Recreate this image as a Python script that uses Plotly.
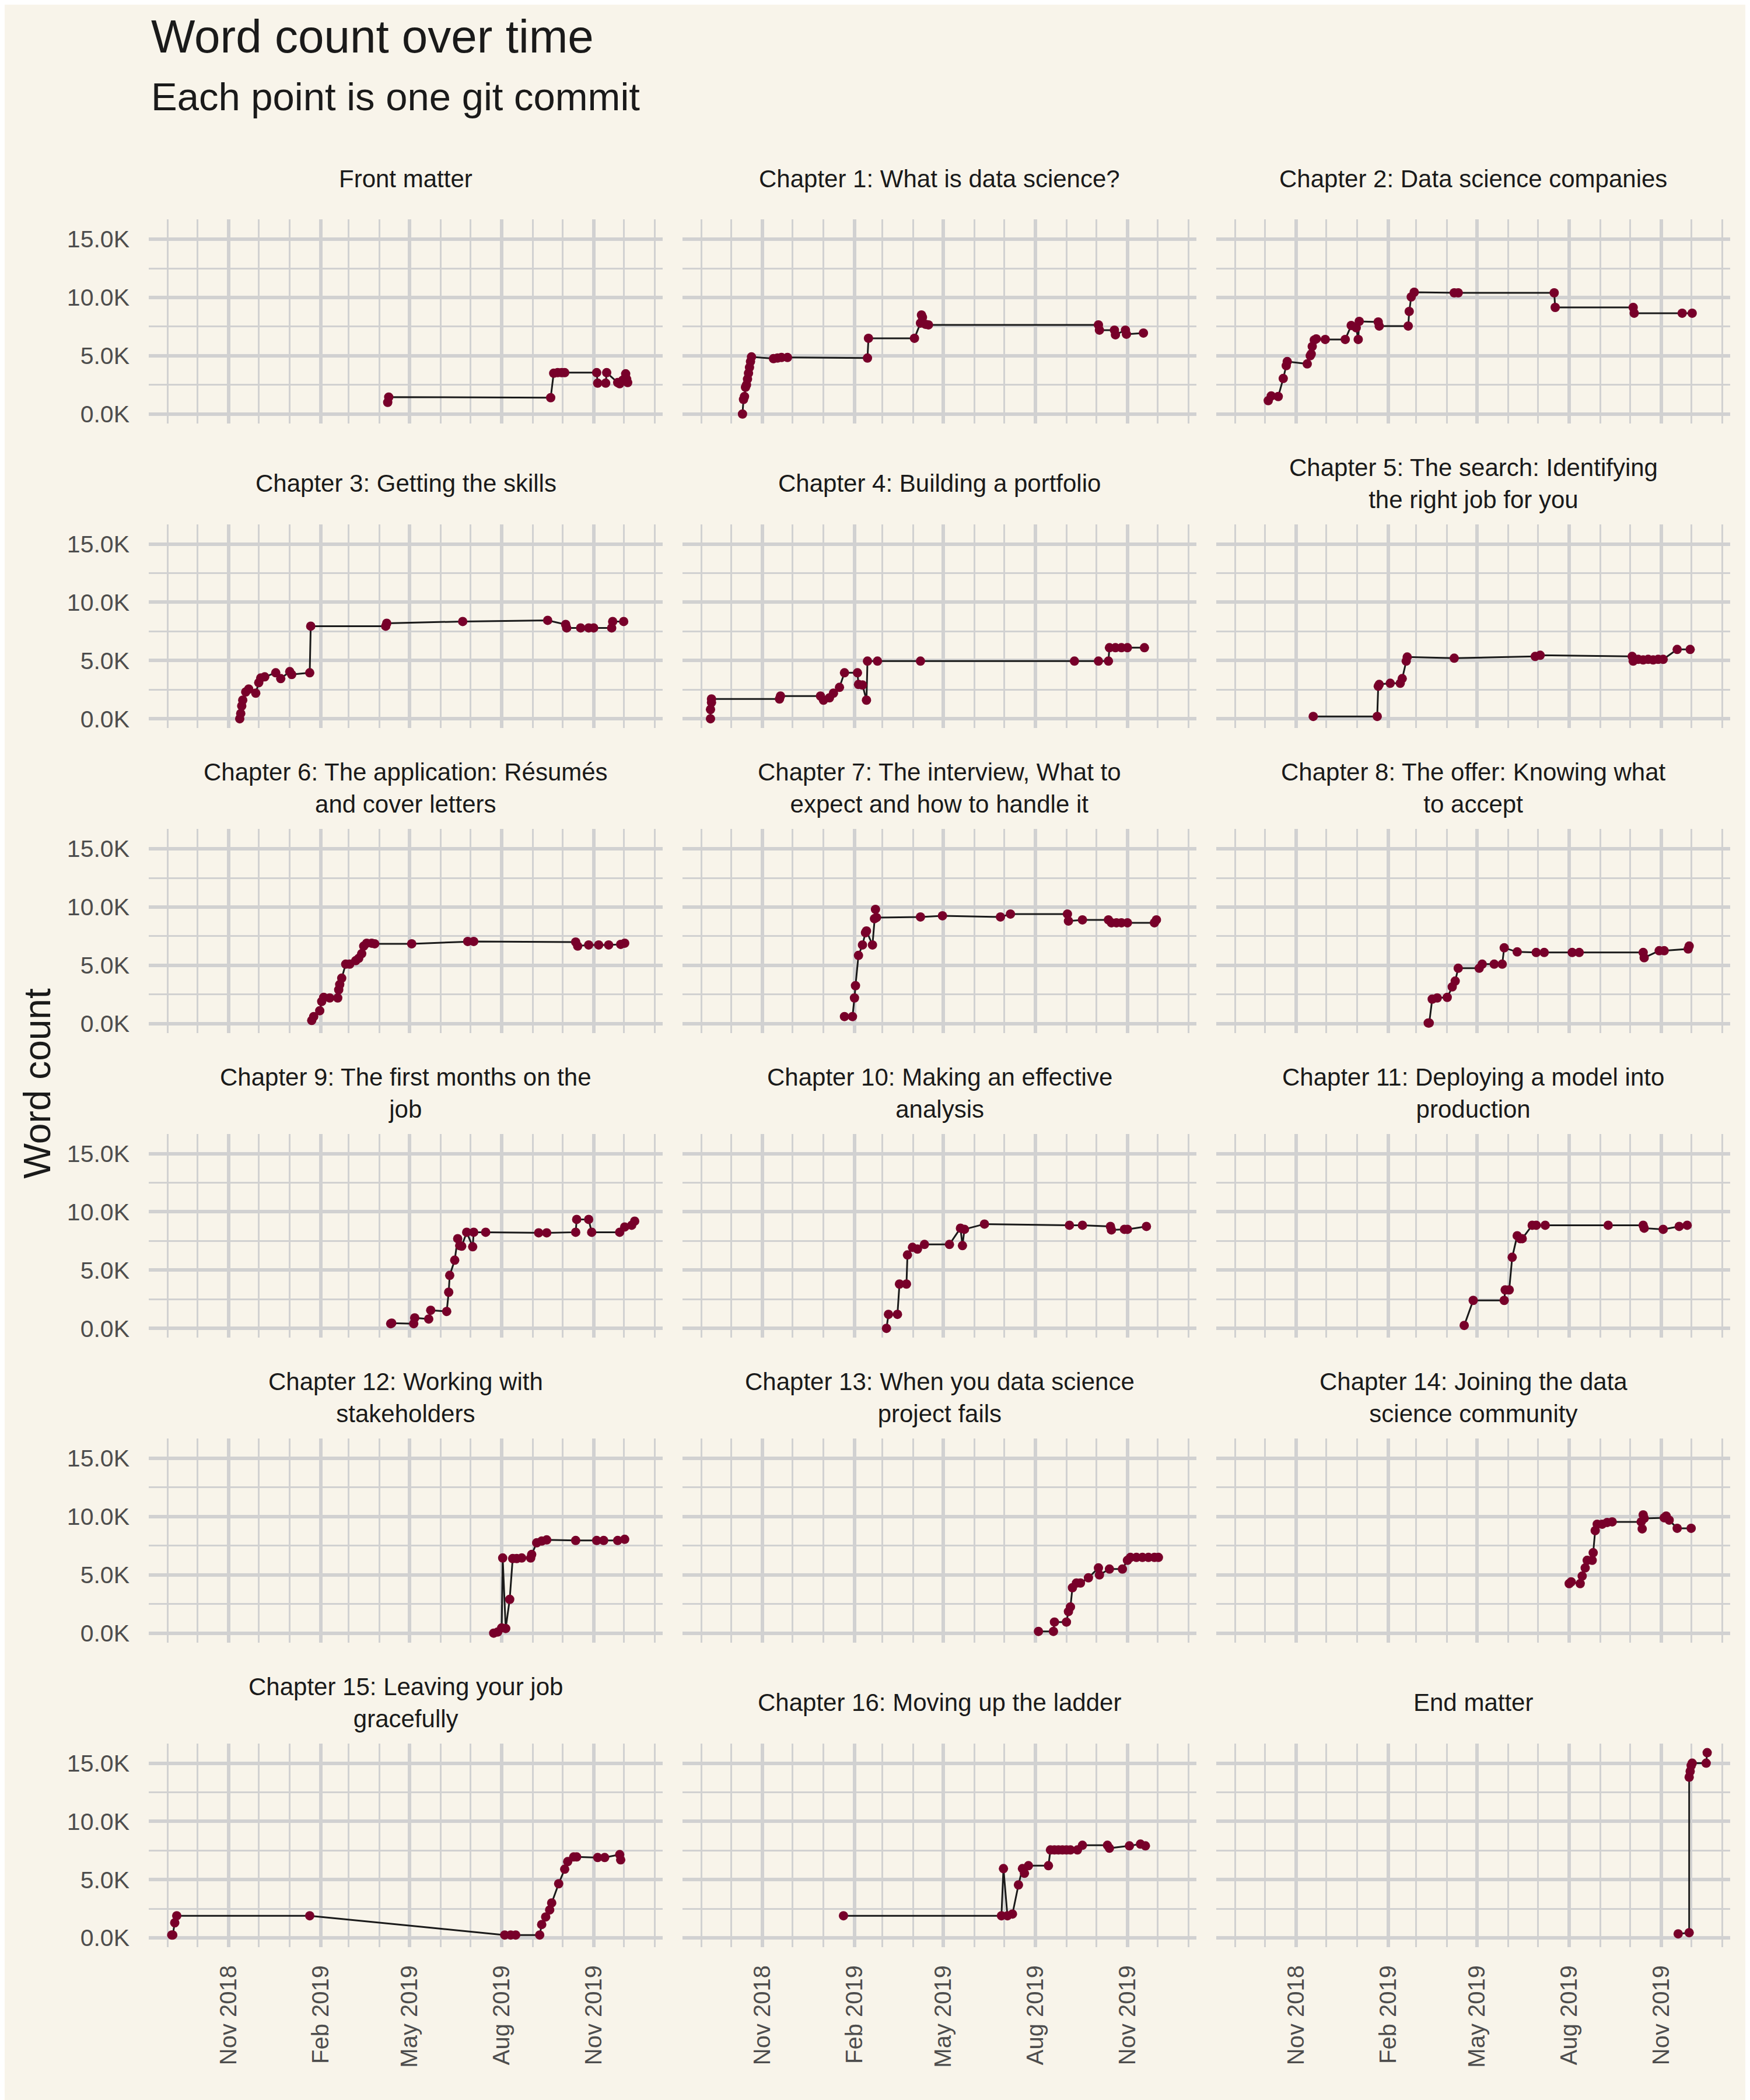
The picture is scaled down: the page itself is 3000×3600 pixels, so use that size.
import plotly.graph_objects as go
import datetime as dt

# ---------------- data ----------------
fm_dates = ["2019-04-09", "2019-04-10", "2019-09-19", "2019-09-22", "2019-09-26", "2019-09-30", "2019-10-03",
            "2019-11-04", "2019-11-05", "2019-11-13", "2019-11-14", "2019-11-25", "2019-11-27", "2019-11-30",
            "2019-12-03", "2019-12-04", "2019-12-05"]
fm_words = [1000, 1450, 1400, 3500, 3550, 3550, 3550, 3550, 2650, 2650, 3550, 2700, 2600, 2900, 3450, 3000, 2700]

ch1_dates = ["2018-10-12", "2018-10-13", "2018-10-14", "2018-10-15", "2018-10-16", "2018-10-17", "2018-10-18",
             "2018-10-19", "2018-10-20", "2018-10-21", "2018-11-12", "2018-11-16", "2018-11-20", "2018-11-26",
             "2019-02-14", "2019-02-15", "2019-04-02", "2019-04-08", "2019-04-09", "2019-04-10", "2019-04-13",
             "2019-04-16", "2019-10-03", "2019-10-04", "2019-10-19", "2019-10-20", "2019-10-30", "2019-10-31",
             "2019-11-17"]
ch1_words = [0, 1250, 1500, 2300, 2500, 3000, 3500, 4000, 4500, 4900, 4750, 4800, 4850, 4850, 4800, 6500, 6500,
             7800, 8500, 8300, 7700, 7650, 7650, 7200, 7200, 6800, 7200, 6850, 6950]

ch2_dates = ["2018-10-04", "2018-10-07", "2018-10-14", "2018-10-19", "2018-10-22", "2018-10-23", "2018-11-12",
             "2018-11-15", "2018-11-16", "2018-11-17", "2018-11-19", "2018-11-21", "2018-11-30", "2018-12-20",
             "2018-12-26", "2018-12-31", "2019-01-02", "2019-01-03", "2019-01-22", "2019-01-23", "2019-02-21",
             "2019-02-22", "2019-02-24", "2019-02-27", "2019-04-08", "2019-04-12", "2019-07-17", "2019-07-18",
             "2019-10-04", "2019-10-05", "2019-11-22", "2019-12-02"]
ch2_words = [1150, 1550, 1500, 3050, 4150, 4500, 4300, 5000, 5150, 5800, 6350, 6450, 6400, 6400, 7600, 7400, 6400,
             7950, 7900, 7550, 7550, 8800, 10050, 10450, 10400, 10400, 10400, 9150, 9150, 8650, 8650, 8650]

ch3_dates = ["2018-11-12", "2018-11-13", "2018-11-14", "2018-11-15", "2018-11-18", "2018-11-21", "2018-11-28",
             "2018-12-01", "2018-12-03", "2018-12-07", "2018-12-18", "2018-12-23", "2019-01-01", "2019-01-03",
             "2019-01-21", "2019-01-22", "2019-04-07", "2019-04-08", "2019-06-23", "2019-09-16", "2019-10-04",
             "2019-10-05", "2019-10-19", "2019-10-27", "2019-11-01", "2019-11-19", "2019-11-20", "2019-12-01"]
ch3_words = [0, 450, 1100, 1600, 2300, 2550, 2200, 3100, 3500, 3600, 3950, 3450, 4050, 3800, 3950, 7950, 7950,
             8200, 8350, 8450, 8100, 7800, 7800, 7800, 7800, 7800, 8350, 8350]

ch4_dates = ["2018-09-10", "2018-09-10", "2018-09-11", "2018-09-11", "2018-11-18", "2018-11-19", "2018-12-29",
             "2019-01-01", "2019-01-07", "2019-01-11", "2019-01-17", "2019-01-22", "2019-02-04", "2019-02-05",
             "2019-02-09", "2019-02-13", "2019-02-14", "2019-02-24", "2019-04-08", "2019-09-09", "2019-10-03",
             "2019-10-13", "2019-10-14", "2019-10-20", "2019-10-26", "2019-11-01", "2019-11-18"]
ch4_words = [0, 800, 1400, 1700, 1700, 1950, 1950, 1600, 1800, 2200, 2700, 3950, 3950, 2950, 2900, 1600, 4950,
             4950, 4950, 4950, 4950, 4950, 6100, 6100, 6100, 6100, 6100]

ch5_dates = ["2018-11-18", "2019-01-21", "2019-01-22", "2019-01-23", "2019-02-03", "2019-02-13", "2019-02-15",
             "2019-02-19", "2019-02-20", "2019-04-08", "2019-06-28", "2019-07-03", "2019-10-03", "2019-10-04",
             "2019-10-09", "2019-10-14", "2019-10-19", "2019-10-24", "2019-10-29", "2019-11-03", "2019-11-17",
             "2019-11-30"]
ch5_words = [200, 200, 2800, 2950, 3050, 3050, 3450, 4950, 5300, 5200, 5350, 5450, 5350, 4950, 5100, 5050, 5100,
             5050, 5100, 5100, 5950, 5950]

ch6_dates = ["2019-01-23", "2019-01-25", "2019-01-31", "2019-02-02", "2019-02-04", "2019-02-10", "2019-02-18",
             "2019-02-19", "2019-02-20", "2019-02-22", "2019-02-26", "2019-03-02", "2019-03-08", "2019-03-11",
             "2019-03-14", "2019-03-16", "2019-03-19", "2019-03-24", "2019-03-27", "2019-05-03", "2019-06-28",
             "2019-07-04", "2019-10-14", "2019-10-16", "2019-10-27", "2019-11-06", "2019-11-16", "2019-11-28",
             "2019-12-02"]
ch6_words = [270, 600, 1100, 1900, 2250, 2200, 2200, 2900, 3350, 3900, 5100, 5100, 5400, 5600, 6000, 6650, 6900,
             6900, 6850, 6850, 7050, 7050, 7000, 6650, 6750, 6750, 6750, 6800, 6900]

ch7_dates = ["2019-01-22", "2019-01-30", "2019-02-01", "2019-02-02", "2019-02-05", "2019-02-09", "2019-02-12",
             "2019-02-13", "2019-02-19", "2019-02-21", "2019-02-22", "2019-02-23", "2019-04-08", "2019-04-30",
             "2019-06-27", "2019-07-07", "2019-09-02", "2019-09-03", "2019-09-17", "2019-10-13", "2019-10-16",
             "2019-10-21", "2019-10-26", "2019-11-01", "2019-11-28", "2019-11-30"]
ch7_words = [600, 600, 2200, 3250, 5850, 6750, 7800, 7950, 6750, 9000, 9800, 9100, 9150, 9250, 9150, 9400, 9400,
             8800, 8900, 8900, 8650, 8650, 8650, 8650, 8650, 8900]

ch8_dates = ["2019-03-13", "2019-03-14", "2019-03-17", "2019-03-22", "2019-04-01", "2019-04-06", "2019-04-09",
             "2019-04-12", "2019-05-03", "2019-05-06", "2019-05-18", "2019-05-26", "2019-05-28", "2019-06-10",
             "2019-06-29", "2019-07-07", "2019-08-04", "2019-08-11", "2019-10-14", "2019-10-15", "2019-10-30",
             "2019-11-04", "2019-11-28", "2019-11-29"]
ch8_words = [50, 50, 2100, 2200, 2250, 3150, 3650, 4750, 4750, 5100, 5100, 5100, 6500, 6150, 6100, 6100, 6100,
             6100, 6100, 5650, 6250, 6250, 6400, 6650]

ch9_dates = ["2019-04-12", "2019-04-13", "2019-05-05", "2019-05-06", "2019-05-20", "2019-05-22", "2019-06-07",
             "2019-06-09", "2019-06-10", "2019-06-15", "2019-06-18", "2019-06-20", "2019-06-22", "2019-06-27",
             "2019-07-03", "2019-07-04", "2019-07-16", "2019-09-07", "2019-09-15", "2019-10-14", "2019-10-15",
             "2019-10-27", "2019-10-30", "2019-11-27", "2019-12-02", "2019-12-09", "2019-12-12"]
ch9_words = [400, 450, 400, 900, 800, 1550, 1450, 3100, 4550, 5850, 7700, 7100, 7050, 8250, 7000, 8250, 8250,
             8200, 8200, 8250, 9350, 9350, 8250, 8250, 8700, 8850, 9200]

ch10_dates = ["2019-03-05", "2019-03-07", "2019-03-16", "2019-03-18", "2019-03-25", "2019-03-26", "2019-03-31",
              "2019-04-05", "2019-04-12", "2019-05-07", "2019-05-18", "2019-05-20", "2019-05-22", "2019-06-11",
              "2019-09-04", "2019-09-17", "2019-10-15", "2019-10-16", "2019-10-29", "2019-11-01", "2019-11-20"]
ch10_words = [0, 1200, 1200, 3800, 3800, 6300, 6950, 6800, 7200, 7200, 8600, 7100, 8500, 8950, 8850, 8850, 8750,
              8450, 8500, 8500, 8750]

ch11_dates = ["2019-04-18", "2019-04-27", "2019-05-28", "2019-05-29", "2019-06-02", "2019-06-05", "2019-06-10",
              "2019-06-13", "2019-06-15", "2019-06-25", "2019-06-29", "2019-07-08", "2019-09-09", "2019-10-14",
              "2019-10-15", "2019-11-03", "2019-11-19", "2019-11-27"]
ch11_words = [250, 2400, 2400, 3300, 3300, 6100, 7950, 7700, 7700, 8850, 8850, 8850, 8850, 8850, 8600, 8500, 8750,
              8850]

ch12_dates = ["2019-07-24", "2019-07-28", "2019-08-01", "2019-08-02", "2019-08-05", "2019-08-09", "2019-08-12",
              "2019-08-16", "2019-08-21", "2019-08-30", "2019-08-31", "2019-09-05", "2019-09-10", "2019-09-15",
              "2019-10-14", "2019-11-04", "2019-11-11", "2019-11-25", "2019-12-02"]
ch12_words = [0, 100, 450, 6450, 400, 2900, 6400, 6400, 6450, 6450, 6750, 7750, 7900, 8000, 7950, 7950, 7950,
              7950, 8050]

ch13_dates = ["2019-08-04", "2019-08-19", "2019-08-20", "2019-09-01", "2019-09-03", "2019-09-05", "2019-09-07",
              "2019-09-11", "2019-09-15", "2019-09-23", "2019-10-03", "2019-10-04", "2019-10-14", "2019-10-27",
              "2019-11-01", "2019-11-04", "2019-11-10", "2019-11-16", "2019-11-22", "2019-11-28", "2019-12-02"]
ch13_words = [150, 150, 950, 950, 1850, 2250, 3900, 4300, 4300, 4750, 5600, 5000, 5500, 5500, 6250, 6500, 6500,
              6500, 6500, 6500, 6500]

ch14_dates = ["2019-08-01", "2019-08-03", "2019-08-12", "2019-08-14", "2019-08-17", "2019-08-19", "2019-08-24",
              "2019-08-25", "2019-08-27", "2019-08-29", "2019-09-03", "2019-09-08", "2019-09-13", "2019-10-12",
              "2019-10-13", "2019-10-14", "2019-10-15", "2019-11-04", "2019-11-06", "2019-11-09", "2019-11-17",
              "2019-12-01"]
ch14_words = [4250, 4400, 4250, 4900, 5600, 6250, 6250, 6900, 8800, 9350, 9350, 9500, 9550, 9550, 8950, 10150,
              9850, 9900, 10050, 9700, 9000, 9000]

ch15_dates = ["2018-09-05", "2018-09-06", "2018-09-08", "2018-09-10", "2019-01-21", "2019-08-04", "2019-08-10",
              "2019-08-15", "2019-09-08", "2019-09-10", "2019-09-14", "2019-09-18", "2019-09-20", "2019-09-27",
              "2019-10-03", "2019-10-06", "2019-10-12", "2019-10-15", "2019-11-05", "2019-11-12", "2019-11-27",
              "2019-11-28"]
ch15_words = [250, 250, 1300, 1900, 1900, 250, 250, 250, 250, 1150, 1800, 2400, 3000, 4650, 5900, 6550, 6950,
              6950, 6900, 6900, 7150, 6700]

ch16_dates = ["2019-01-21", "2019-06-28", "2019-06-30", "2019-07-04", "2019-07-09", "2019-07-15", "2019-07-19",
              "2019-07-21", "2019-07-25", "2019-08-14", "2019-08-16", "2019-08-20", "2019-08-24", "2019-08-28",
              "2019-09-01", "2019-09-05", "2019-09-12", "2019-09-17", "2019-10-12", "2019-10-14", "2019-11-03",
              "2019-11-14", "2019-11-19"]
ch16_words = [1900, 1900, 5950, 1900, 2050, 4550, 5950, 5550, 6200, 6200, 7550, 7550, 7550, 7550, 7550, 7550,
              7550, 7950, 7950, 7700, 7900, 8050, 7900]

end_dates = ["2019-11-18", "2019-11-29", "2019-11-29", "2019-11-30", "2019-12-01", "2019-12-02", "2019-12-16",
             "2019-12-17"]
end_words = [350, 450, 13800, 14300, 14800, 15000, 15000, 15900]

panel_titles = [
    "Front matter",
    "Chapter 1: What is data science?",
    "Chapter 2: Data science companies",
    "Chapter 3: Getting the skills",
    "Chapter 4: Building a portfolio",
    "Chapter 5: The search: Identifying<br>the right job for you",
    "Chapter 6: The application: Résumés<br>and cover letters",
    "Chapter 7: The interview, What to<br>expect and how to handle it",
    "Chapter 8: The offer: Knowing what<br>to accept",
    "Chapter 9: The first months on the<br>job",
    "Chapter 10: Making an effective<br>analysis",
    "Chapter 11: Deploying a model into<br>production",
    "Chapter 12: Working with<br>stakeholders",
    "Chapter 13: When you data science<br>project fails",
    "Chapter 14: Joining the data<br>science community",
    "Chapter 15: Leaving your job<br>gracefully",
    "Chapter 16: Moving up the ladder",
    "End matter",
]
panel_dates = [fm_dates, ch1_dates, ch2_dates, ch3_dates, ch4_dates, ch5_dates, ch6_dates, ch7_dates, ch8_dates,
               ch9_dates, ch10_dates, ch11_dates, ch12_dates, ch13_dates, ch14_dates, ch15_dates, ch16_dates,
               end_dates]
panel_words = [fm_words, ch1_words, ch2_words, ch3_words, ch4_words, ch5_words, ch6_words, ch7_words, ch8_words,
               ch9_words, ch10_words, ch11_words, ch12_words, ch13_words, ch14_words, ch15_words, ch16_words,
               end_words]

y_tick_values = [0, 5000, 10000, 15000]
y_tick_labels = ["0.0K", "5.0K", "10.0K", "15.0K"]
x_tick_values = ["2018-11-01", "2019-02-01", "2019-05-01", "2019-08-01", "2019-11-01"]
x_tick_labels = ["Nov 2018", "Feb 2019", "May 2019", "Aug 2019", "Nov 2019"]

# ---------------- styling / layout ----------------
W, H = 3000, 3600
OFF = 8  # page body margin of the browser
BG = "#F8F4EA"
GRID = "#D1D1D1"
POINT = "#78002A"
LINE = "#1A1A1A"
FONT = "Liberation Sans, Arial, sans-serif"

col_left = [255 - OFF, 1170 - OFF, 2085 - OFF]
panel_w = 881
row_top0 = 377 - OFF
row_pitch = 523.5
panel_h = 350

all_d = [dt.date.fromisoformat(d) for ds in panel_dates for d in ds]
dmin, dmax = min(all_d), max(all_d)
pad = (dmax - dmin) * 0.05
x_range = [str(dmin - pad), str(dmax + pad)]
ymax = max(max(w) for w in panel_words)
ymin = 0
ypad = (ymax - ymin) * 0.05
y_range = [ymin - ypad, ymax + ypad]

fig = go.Figure()
annotations = []
for i in range(18):
    r, c = divmod(i, 3)
    n = i + 1
    xa = "x" if n == 1 else f"x{n}"
    ya = "y" if n == 1 else f"y{n}"
    fig.add_trace(go.Scatter(
        x=panel_dates[i], y=panel_words[i], mode="lines+markers",
        line=dict(color=LINE, width=3),
        marker=dict(color=POINT, size=16, line=dict(width=0)),
        xaxis=xa, yaxis=ya, showlegend=False, hoverinfo="skip"))

    x0 = col_left[c]
    x1 = x0 + panel_w
    top = row_top0 + r * row_pitch
    bot = top + panel_h
    xdom = [x0 / W, x1 / W]
    ydom = [1 - bot / H, 1 - top / H]

    fig.layout["xaxis" if n == 1 else f"xaxis{n}"] = dict(
        domain=xdom, anchor=ya, type="date", range=x_range,
        tickmode="array", tickvals=x_tick_values, ticktext=x_tick_labels,
        showticklabels=(r == 5), tickangle=-90, ticks="", ticklabelstandoff=22,
        tickfont=dict(size=40, color="#4D4D4D", family=FONT),
        showgrid=True, gridcolor=GRID, gridwidth=5.5, zeroline=False, showline=False,
        minor=dict(dtick="M1", tick0="2018-09-01", showgrid=True, gridcolor=GRID, gridwidth=2.8, ticks=""),
    )
    fig.layout["yaxis" if n == 1 else f"yaxis{n}"] = dict(
        domain=ydom, anchor=xa, range=y_range,
        tickmode="array", tickvals=y_tick_values, ticktext=y_tick_labels,
        showticklabels=(c == 0), ticks="", ticklabelstandoff=32,
        tickfont=dict(size=41, color="#4D4D4D", family=FONT),
        showgrid=True, gridcolor=GRID, gridwidth=5.5, zeroline=False, showline=False,
        minor=dict(dtick=2500, tick0=0, showgrid=True, gridcolor=GRID, gridwidth=2.8, ticks=""),
    )
    annotations.append(dict(
        text=panel_titles[i], x=(x0 + x1) / 2 / W, y=1 - (top - 70) / H,
        xref="paper", yref="paper", xanchor="center", yanchor="middle", showarrow=False,
        font=dict(size=42, color="#1A1A1A", family=FONT)))

annotations.append(dict(text="Word count over time", x=(257 - OFF) / W, y=1 - (63 - OFF) / H, xref="paper",
                        yref="paper", xanchor="left", yanchor="middle", showarrow=False,
                        font=dict(size=80, color="#1A1A1A", family=FONT)))
annotations.append(dict(text="Each point is one git commit", x=(257 - OFF) / W, y=1 - (166 - OFF) / H,
                        xref="paper", yref="paper", xanchor="left", yanchor="middle", showarrow=False,
                        font=dict(size=67, color="#1A1A1A", family=FONT)))
annotations.append(dict(text="Word count", x=(64 - OFF) / W, y=1 - (1861 - OFF) / H, xref="paper",
                        yref="paper", xanchor="center", yanchor="middle", showarrow=False, textangle=-90,
                        font=dict(size=64, color="#1A1A1A", family=FONT)))

fig.update_layout(
    width=W, height=H, margin=dict(l=0, r=0, t=0, b=0),
    paper_bgcolor=BG, plot_bgcolor=BG,
    font=dict(family=FONT, color="#1A1A1A"),
    annotations=annotations, showlegend=False,
)

fig.write_html("out.html")
